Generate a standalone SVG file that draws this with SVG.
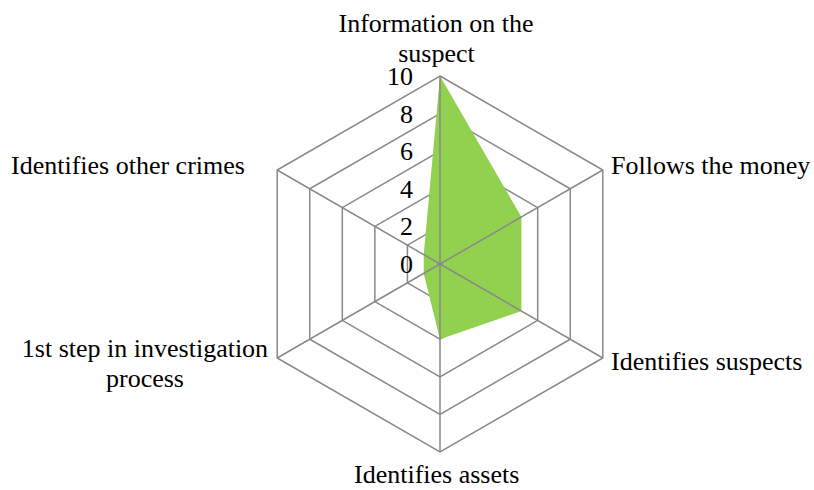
<svg xmlns="http://www.w3.org/2000/svg" width="814" height="490" viewBox="0 0 814 490">
<style>
.grid{fill:none;stroke:#898989;stroke-width:1.5;stroke-linejoin:miter}
.spoke{stroke:#898989;stroke-width:1.5}
.data{fill:#92D050;stroke:none}
.t{font-family:'Liberation Serif','DejaVu Serif',serif;font-size:26px;fill:#000}
.tick{text-anchor:end}
.mid{text-anchor:middle}
</style>
<rect width="814" height="490" fill="#fff"/>
<g id="gridlines">
<polygon class="grid" points="440,76 602.81,170 602.81,358 440,452 277.19,358 277.19,170"/>
<polygon class="grid" points="440,113.6 570.25,188.8 570.25,339.2 440,414.4 309.75,339.2 309.75,188.8"/>
<polygon class="grid" points="440,151.2 537.69,207.6 537.69,320.4 440,376.8 342.31,320.4 342.31,207.6"/>
<polygon class="grid" points="440,188.8 505.12,226.4 505.12,301.6 440,339.2 374.88,301.6 374.88,226.4"/>
<polygon class="grid" points="440,226.4 472.56,245.2 472.56,282.8 440,301.6 407.44,282.8 407.44,245.2"/>
</g>
<g id="series">
<polygon class="data" points="440,76 521.41,217 521.41,311 440,339.2 423.72,273.4 423.72,254.6"/>
</g>
<g id="axes">
<line class="spoke" x1="440" y1="264" x2="440" y2="76"/>
<line class="spoke" x1="440" y1="264" x2="602.81" y2="170"/>
<line class="spoke" x1="440" y1="264" x2="602.81" y2="358"/>
<line class="spoke" x1="440" y1="264" x2="440" y2="452"/>
<line class="spoke" x1="440" y1="264" x2="277.19" y2="358"/>
<line class="spoke" x1="440" y1="264" x2="277.19" y2="170"/>
</g>
<g id="ticks" font-family="Liberation Serif, serif">
<text class="t tick" x="413" y="85">10</text>
<text class="t tick" x="413" y="122.6">8</text>
<text class="t tick" x="413" y="160.2">6</text>
<text class="t tick" x="413" y="197.8">4</text>
<text class="t tick" x="413" y="235.4">2</text>
<text class="t tick" x="413" y="273">0</text>
</g>
<g id="labels" font-family="Liberation Serif, serif">
<text class="t mid" x="436" y="31.5">Information on the</text>
<text class="t mid" x="436.5" y="61.5">suspect</text>
<text class="t" x="611" y="174.3">Follows the money</text>
<text class="t" x="611" y="370">Identifies suspects</text>
<text class="t mid" x="436.7" y="483.3">Identifies assets</text>
<text class="t mid" x="145" y="356.7">1st step in investigation</text>
<text class="t mid" x="145" y="386.5">process</text>
<text class="t" x="11" y="174.3">Identifies other crimes</text>
</g>
</svg>
